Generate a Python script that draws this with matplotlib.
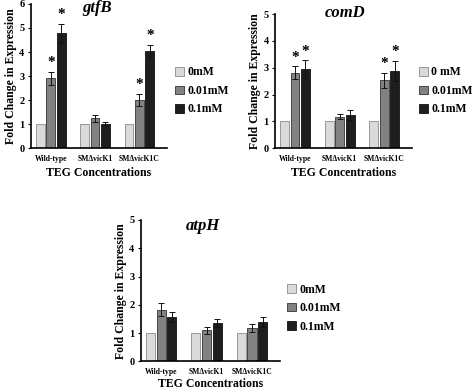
import numpy as np
import matplotlib
matplotlib.use("Agg")
import matplotlib.pyplot as plt

plt.rcParams["font.family"] = ["Liberation Serif", "DejaVu Serif"]
plt.rcParams["font.weight"] = "bold"

STRAINS = ["Wild-type", "SM\u0394vicK1", "SM\u0394vicK1C"]
CONC = ["0mM", "0.01mM", "0.1mM"]
CONC_COMD = ["0 mM", "0.01mM", "0.1mM"]

# gtfB
GTFB_MEAN = [[1.0, 1.0, 1.0], [2.9, 1.25, 2.0], [4.78, 1.02, 4.03]]
GTFB_ERR = [[0, 0, 0], [0.27, 0.15, 0.26], [0.4, 0.07, 0.25]]
GTFB_SIG = [[False, False, False], [True, False, True], [True, False, True]]

# comD
COMD_MEAN = [[1.0, 1.0, 1.0], [2.82, 1.17, 2.53], [2.95, 1.23, 2.87]]
COMD_ERR = [[0, 0, 0], [0.23, 0.1, 0.28], [0.32, 0.18, 0.38]]
COMD_SIG = [[False, False, False], [True, False, True], [True, False, True]]

# atpH
ATPH_MEAN = [[1.0, 1.0, 1.0], [1.83, 1.1, 1.18], [1.58, 1.35, 1.38]]
ATPH_ERR = [[0, 0, 0], [0.22, 0.12, 0.13], [0.18, 0.15, 0.18]]
ATPH_SIG = [[False, False, False], [False, False, False], [False, False, False]]

COLORS = ["#dadada", "#828282", "#1e1e1e"]
EDGES = ["#8a8a8a", "#333333", "#111111"]


def draw_panel(fig, rect, title, title_xy, means, errs, sigs, ymax, labels,
               legend_xy, xlabel_pad=3):
    ax = fig.add_axes(rect)
    x = np.arange(len(STRAINS))
    width = 0.2
    offsets = [-0.235, 0.0, 0.235]
    handles = []
    for i in range(3):
        e = errs[i]
        bars = ax.bar(x + offsets[i], means[i], width, color=COLORS[i],
                      edgecolor=EDGES[i], linewidth=0.6, label=labels[i],
                      yerr=[v if v > 0 else np.nan for v in e],
                      error_kw=dict(ecolor="#111111", elinewidth=0.7,
                                    capsize=2.5, capthick=0.7))
        handles.append(bars)
        for j in range(len(STRAINS)):
            if sigs[i][j]:
                ax.text(x[j] + offsets[i], means[i][j] + e[j] + 0.02 * ymax, "*",
                        ha="center", va="bottom", fontsize=11, fontweight="bold")
    ax.set_ylim(0, ymax)
    ax.set_xlim(-0.45, 2.62)
    ax.set_yticks(range(0, ymax + 1))
    ax.tick_params(axis="y", labelsize=7.5, length=2.5, width=0.8, pad=2)
    ax.set_xticks(x)
    ax.set_xticklabels(STRAINS, fontsize=5.5, fontweight="bold")
    ax.tick_params(axis="x", length=0, pad=5)
    for s in ["top", "right"]:
        ax.spines[s].set_visible(False)
    for s in ["left", "bottom"]:
        ax.spines[s].set_linewidth(1.2)
    ax.set_xlabel("TEG Concentrations", fontsize=8.5, fontweight="bold",
                  labelpad=xlabel_pad)
    ax.set_ylabel("Fold Change in Expression", fontsize=8.5, fontweight="bold",
                  labelpad=2)
    fig.text(title_xy[0], title_xy[1], title, ha="center", va="center",
             fontsize=12, fontweight="bold", fontstyle="italic")
    leg = fig.legend(handles=handles, labels=labels, loc="center left",
                     bbox_to_anchor=legend_xy, frameon=False, fontsize=8.5,
                     handlelength=0.75, handleheight=0.75, handletextpad=0.3,
                     labelspacing=0.55, borderpad=0, borderaxespad=0)
    for t in leg.get_texts():
        t.set_fontweight("bold")
    return ax


fig = plt.figure(figsize=(4.74, 3.92), dpi=100)

draw_panel(fig, [0.065, 0.622, 0.287, 0.368], "gtfB", (0.205, 0.980),
           GTFB_MEAN, GTFB_ERR, GTFB_SIG, 6, CONC, (0.369, 0.768))
draw_panel(fig, [0.580, 0.622, 0.289, 0.342], "comD", (0.728, 0.968),
           COMD_MEAN, COMD_ERR, COMD_SIG, 5, CONC_COMD, (0.884, 0.768))
draw_panel(fig, [0.297, 0.078, 0.294, 0.361], "atpH", (0.428, 0.423),
           ATPH_MEAN, ATPH_ERR, ATPH_SIG, 5, CONC, (0.605, 0.214),
           xlabel_pad=1)

fig.savefig("out.png", dpi=100)
